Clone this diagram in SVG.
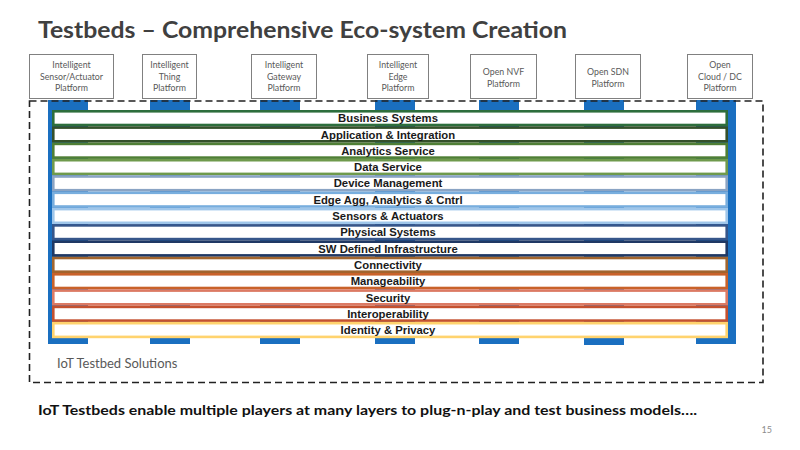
<svg xmlns="http://www.w3.org/2000/svg" width="800" height="450" viewBox="0 0 800 450">
<style>
.title{font-family:Lato,"Open Sans",sans-serif;font-weight:bold;font-size:22px;fill:#404040}
.pbox{fill:#fff;stroke:#808080;stroke-width:1}
.ptxt{font-family:Lato,"Open Sans",sans-serif;font-size:8.8px;fill:#595959;text-anchor:middle}
.col{fill:#1a6fc0}
.bar{fill:#fff;stroke-width:2.6}
.btxt{font-family:"Liberation Sans",Arial,sans-serif;font-weight:bold;font-size:11.3px;fill:#1a1a1a;text-anchor:middle}
.dash{fill:none;stroke:#222;stroke-width:1.6;stroke-dasharray:7 4}
</style>
<rect width="800" height="450" fill="#fff"/>
<text class="title" x="38" y="38" textLength="529" lengthAdjust="spacingAndGlyphs">Testbeds – Comprehensive Eco-system Creation</text>

<g id="columns">
<rect class="col" x="48" y="100" width="40" height="244"/>
<rect class="col" x="150" y="100" width="40" height="244"/>
<rect class="col" x="260" y="100" width="40" height="244"/>
<rect class="col" x="375" y="100" width="40" height="244"/>
<rect class="col" x="479" y="100" width="40" height="244"/>
<rect class="col" x="584" y="100" width="40" height="245"/>
<rect class="col" x="696" y="100" width="40" height="244"/>
</g>

<g id="layers">
<g id="bar1"><rect class="bar" x="53.3" y="111.3" width="673.4" height="13.7" stroke="#2d6e3c"/><text class="btxt" x="388" y="122.2">Business Systems</text></g>
<g id="bar2"><rect class="bar" x="53.3" y="127.6" width="673.4" height="13.7" stroke="#34502a"/><text class="btxt" x="388" y="138.5">Application &amp; Integration</text></g>
<g id="bar3"><rect class="bar" x="53.3" y="143.9" width="673.4" height="13.7" stroke="#4f7f35"/><text class="btxt" x="388" y="154.8">Analytics Service</text></g>
<g id="bar4"><rect class="bar" x="53.3" y="160.2" width="673.4" height="13.7" stroke="#6f9a4c"/><text class="btxt" x="388" y="171.1">Data Service</text></g>
<g id="bar5"><rect class="bar" x="53.3" y="176.5" width="673.4" height="13.7" stroke="#8aa4c4"/><text class="btxt" x="388" y="187.4">Device Management</text></g>
<g id="bar6"><rect class="bar" x="53.3" y="192.8" width="673.4" height="13.7" stroke="#78aede"/><text class="btxt" x="388" y="203.7">Edge Agg, Analytics &amp; Cntrl</text></g>
<g id="bar7"><rect class="bar" x="53.3" y="209.1" width="673.4" height="13.7" stroke="#9fc6ea"/><text class="btxt" x="388" y="220.0">Sensors &amp; Actuators</text></g>
<g id="bar8"><rect class="bar" x="53.3" y="225.4" width="673.4" height="13.7" stroke="#36568a"/><text class="btxt" x="388" y="236.3">Physical Systems</text></g>
<g id="bar9"><rect class="bar" x="53.3" y="241.7" width="673.4" height="13.7" stroke="#1f3864"/><text class="btxt" x="388" y="252.6">SW Defined Infrastructure</text></g>
<g id="bar10"><rect class="bar" x="53.3" y="258.0" width="673.4" height="13.7" stroke="#a2652e"/><text class="btxt" x="388" y="268.9">Connectivity</text></g>
<g id="bar11"><rect class="bar" x="53.3" y="274.3" width="673.4" height="13.7" stroke="#c9622a"/><text class="btxt" x="388" y="285.2">Manageability</text></g>
<g id="bar12"><rect class="bar" x="53.3" y="290.6" width="673.4" height="13.7" stroke="#dc7a64"/><text class="btxt" x="388" y="301.5">Security</text></g>
<g id="bar13"><rect class="bar" x="53.3" y="306.9" width="673.4" height="13.7" stroke="#c4512f"/><text class="btxt" x="388" y="317.8">Interoperability</text></g>
<g id="bar14"><rect class="bar" x="53.3" y="323.2" width="673.4" height="13.7" stroke="#ffd36e"/><text class="btxt" x="388" y="334.1">Identity &amp; Privacy</text></g>
</g>

<g id="solutions">
<rect class="dash" x="29.5" y="101" width="733.5" height="281.5"/>
<text x="57" y="368" style="font-family:Lato,'Open Sans',sans-serif;font-size:13px;fill:#595959">IoT Testbed Solutions</text>
</g>

<g id="p1"><rect class="pbox" x="29.5" y="54.5" width="84" height="44"/><text class="ptxt" x="71.5" y="68">Intelligent</text><text class="ptxt" x="71.5" y="79.5">Sensor/Actuator</text><text class="ptxt" x="71.5" y="91">Platform</text></g>
<g id="p2"><rect class="pbox" x="142.5" y="54.5" width="54" height="44"/><text class="ptxt" x="169.5" y="68">Intelligent</text><text class="ptxt" x="169.5" y="79.5">Thing</text><text class="ptxt" x="169.5" y="91">Platform</text></g>
<g id="p3"><rect class="pbox" x="251.5" y="54.5" width="65" height="44"/><text class="ptxt" x="284" y="68">Intelligent</text><text class="ptxt" x="284" y="79.5">Gateway</text><text class="ptxt" x="284" y="91">Platform</text></g>
<g id="p4"><rect class="pbox" x="367.5" y="54.5" width="61" height="44"/><text class="ptxt" x="398" y="68">Intelligent</text><text class="ptxt" x="398" y="79.5">Edge</text><text class="ptxt" x="398" y="91">Platform</text></g>
<g id="p5"><rect class="pbox" x="470.5" y="54.5" width="66" height="44"/><text class="ptxt" x="503.5" y="75">Open NVF</text><text class="ptxt" x="503.5" y="86.5">Platform</text></g>
<g id="p6"><rect class="pbox" x="575.5" y="54.5" width="65" height="44"/><text class="ptxt" x="608" y="75">Open SDN</text><text class="ptxt" x="608" y="86.5">Platform</text></g>
<g id="p7"><rect class="pbox" x="687.5" y="54.5" width="65" height="44"/><text class="ptxt" x="720" y="68">Open</text><text class="ptxt" x="720" y="79.5">Cloud / DC</text><text class="ptxt" x="720" y="91">Platform</text></g>

<text x="38" y="415" textLength="659" lengthAdjust="spacingAndGlyphs" style="font-family:Lato,'Open Sans',sans-serif;font-weight:bold;font-size:14px;fill:#111">IoT Testbeds enable multiple players at many layers to plug-n-play and test business models….</text>
<text x="772" y="433" text-anchor="end" style="font-family:Lato,'Open Sans',sans-serif;font-size:9px;fill:#8c8c8c">15</text>
</svg>
